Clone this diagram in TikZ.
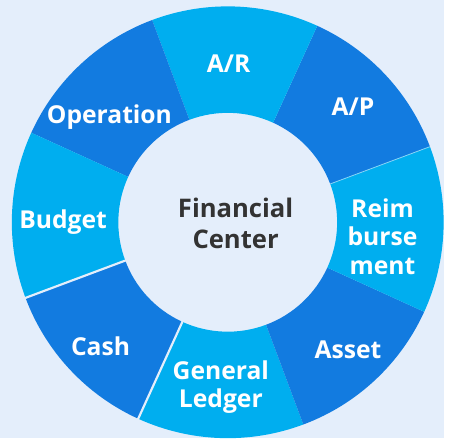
\documentclass[tikz,border=0pt]{standalone}
\usepackage{fontspec}
\setmainfont{Open Sans}
\definecolor{ringlight}{HTML}{00AEEF}
\definecolor{ringdark}{HTML}{127BE0}
\definecolor{pagebg}{HTML}{E4EEFB}
\definecolor{hubtext}{HTML}{333333}
\tikzset{
    x=1pt, y=1pt,
    seglabel/.style={text=white, anchor=base, align=center,
        font=\bfseries\fontsize{25}{29}\selectfont},
    hublabel/.style={text=hubtext, anchor=base, align=center,
        font=\bfseries\fontsize{26}{32}\selectfont},
    gapline/.style={draw=pagebg, line width=2.2pt},
    thinline/.style={draw=pagebg!60!ringlight, line width=0.8pt},
}
\begin{document}
\begin{tikzpicture}
  % page
  \fill[pagebg] (-231,-219) rectangle (219,225);

  % ring segments, 45 degrees each
  \foreach \a/\c in {20.5/ringdark, 65.5/ringlight, 110.5/ringdark, 155.5/ringlight,
                     200.5/ringdark, 245.5/ringlight, 290.5/ringdark, 335.5/ringlight}
    \fill[\c] (\a:111) arc[start angle=\a, delta angle=45, radius=111]
      -- (\a+45:219) arc[start angle=\a+45, delta angle=-45, radius=219] -- cycle;

  % separators
  \draw[gapline] (200.5:108) -- (200.5:222);
  \draw[gapline] (245.5:108) -- (245.5:222);
  \draw[thinline] (20.5:111) -- (20.5:219);

  % labels
  \node[seglabel] (ar)        at (1,152)    {A/R};
  \node[seglabel] (ap)        at (127,108)  {A/P};
  \node[seglabel] (reimb)     at (157,-53)  {Reim\\burse\\ment};
  \node[seglabel] (asset)     at (122,-138) {Asset};
  \node[seglabel] (ledger)    at (-7,-188)  {General\\Ledger};
  \node[seglabel] (cash)      at (-129,-135){Cash};
  \node[seglabel] (budget)    at (-167,-6)  {Budget};
  \node[seglabel] (operation) at (-120,100) {Operation};
  \node[hublabel] (hub)       at (8,-27)    {Financial\\Center};
\end{tikzpicture}
\end{document}
